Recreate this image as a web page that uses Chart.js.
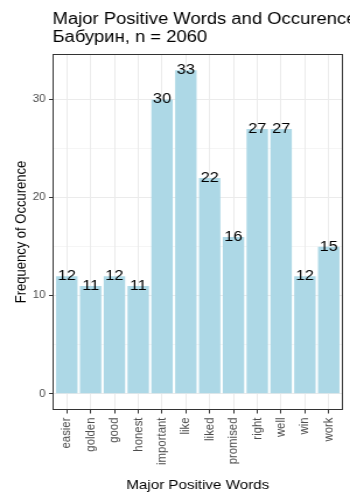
<!DOCTYPE html>
<html>
<head>
<meta charset="utf-8">
<script src="https://cdn.jsdelivr.net/npm/chart.js@4"></script>
<style>
  html, body { margin: 0; padding: 0; background: #ffffff; overflow: hidden; }
  /* the figure is laid out on a 300px-wide canvas and widened to 350px */
  #plot { display: block; transform: scaleX(1.1666667); transform-origin: 0 0; }
</style>
</head>
<body>
<canvas id="plot" width="300" height="500"></canvas>
<script>
// word categories and how often each occurs
const words = ['easier', 'golden', 'good', 'honest', 'important', 'like', 'liked', 'promised', 'right', 'well', 'win', 'work'];
const counts = [12, 11, 12, 11, 30, 33, 22, 16, 27, 27, 12, 15];
// y gridline positions (labels only on the multiples of ten)
const yTicks = [0, 5, 10, 15, 20, 25, 30];

const titleText = 'Major Positive Words and Occurence';
const subtitleText = 'Бабурин, n = 2060';
const xTitle = 'Major Positive Words';
const yTitle = 'Frequency of Occurence';

const FONT = '"Liberation Sans", Arial, Helvetica, sans-serif';

// ggplot-style discrete expansion: 0.6 of a band on each side
const xMin = 1 - 0.6;
const xMax = words.length + 0.6;
// continuous expansion: 5% of the data range on each side
const yPad = 0.05 * Math.max(...counts);
const yMin = -yPad;
const yMax = Math.max(...counts) + yPad;

const decor = {
  id: 'decor',
  afterDatasetsDraw(chart) {
    const ctx = chart.ctx;
    const ca = chart.chartArea;
    // value labels, centred on the top of each bar
    const bars = chart.getDatasetMeta(0).data;
    ctx.save();
    ctx.fillStyle = '#000000';
    ctx.font = '14px ' + FONT;
    ctx.textAlign = 'center';
    ctx.textBaseline = 'middle';
    bars.forEach((bar, i) => {
      ctx.fillText(String(counts[i]), bar.x, bar.y);
    });
    // panel border
    ctx.strokeStyle = '#333333';
    ctx.lineWidth = 1;
    ctx.strokeRect(ca.left + 0.5, ca.top + 0.5, ca.right - ca.left - 1, ca.bottom - ca.top - 1);
    ctx.restore();
  },
  afterDraw(chart) {
    const ctx = chart.ctx;
    const ca = chart.chartArea;
    ctx.save();
    ctx.fillStyle = '#000000';
    ctx.textAlign = 'left';
    ctx.textBaseline = 'alphabetic';
    ctx.font = '15.8px ' + FONT;
    ctx.fillText(titleText, ca.left, 23.5);
    ctx.fillText(subtitleText, ca.left, 41.5);

    ctx.font = '13px ' + FONT;
    ctx.textAlign = 'center';
    ctx.fillText(xTitle, (ca.left + ca.right) / 2, 489);

    ctx.translate(22, (ca.top + ca.bottom) / 2);
    ctx.rotate(-Math.PI / 2);
    ctx.fillText(yTitle, 0, 0);
    ctx.restore();
  }
};

new Chart(document.getElementById('plot'), {
  type: 'bar',
  data: {
    datasets: [{
      data: words.map((w, i) => ({ x: i + 1, y: counts[i] })),
      backgroundColor: '#ADD8E6',
      borderWidth: 0,
      barPercentage: 0.9,
      categoryPercentage: 1.0
    }]
  },
  options: {
    responsive: false,
    devicePixelRatio: 1,
    animation: false,
    layout: { padding: { top: 54, right: 6, bottom: 0, left: 0 } },
    plugins: {
      legend: { display: false },
      tooltip: { enabled: false },
      title: { display: false }
    },
    scales: {
      x: {
        type: 'linear',
        offset: false,
        min: xMin,
        max: xMax,
        afterBuildTicks: s => { s.ticks = words.map((w, i) => ({ value: i + 1 })); },
        afterFit: s => { s.height = 90; },
        ticks: {
          autoSkip: false,
          minRotation: 90,
          maxRotation: 90,
          padding: 4,
          color: '#4D4D4D',
          font: { family: FONT, size: 11.4 },
          callback: v => words[v - 1]
        },
        grid: {
          offset: false,
          color: '#EBEBEB',
          lineWidth: 1,
          tickColor: '#333333',
          tickLength: 3.5,
          tickWidth: 1
        },
        border: { display: false }
      },
      y: {
        type: 'linear',
        min: yMin,
        max: yMax,
        afterBuildTicks: s => { s.ticks = yTicks.map(v => ({ value: v })); },
        afterFit: s => { s.width = 45; },
        ticks: {
          padding: 3,
          color: '#4D4D4D',
          font: { family: FONT, size: 10 },
          callback: v => (v % 10 === 0 ? String(v) : '')
        },
        grid: {
          color: '#EBEBEB',
          lineWidth: c => (c.tick && c.tick.value % 10 === 0 ? 1 : 0.5),
          tickColor: c => (c.tick && c.tick.value % 10 === 0 ? '#333333' : 'rgba(0,0,0,0)'),
          tickLength: 3,
          tickWidth: 1
        },
        border: { display: false }
      }
    }
  },
  plugins: [decor]
});
</script>
</body>
</html>
